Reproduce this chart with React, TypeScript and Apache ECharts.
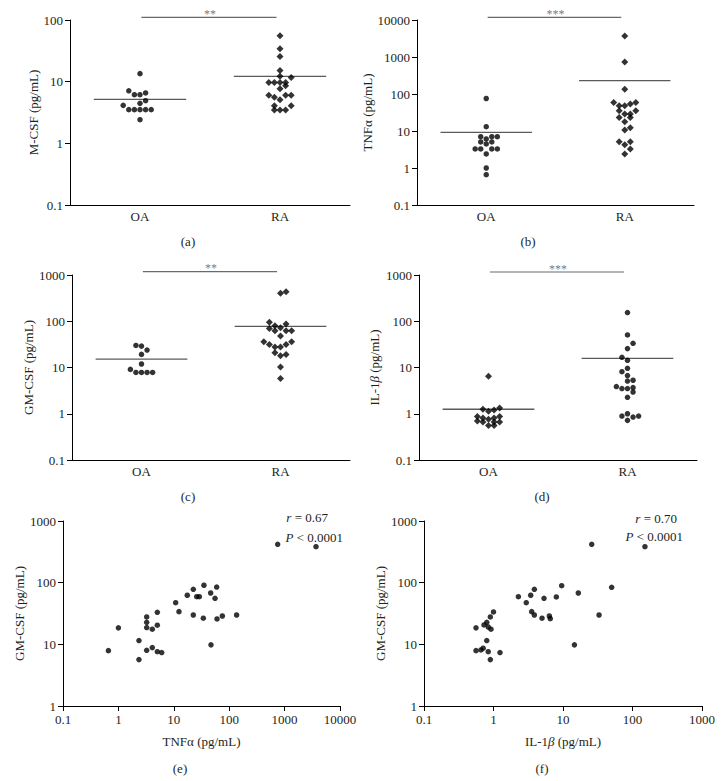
import React, { useEffect, useRef } from "react";
import * as echarts from "echarts";

// ---------- data ----------
const groups = ["OA", "RA"];
const groupPos = [1, 3];

// (a) M-CSF
const aOA = [13.5, 7.1, 6.15, 6.15, 6.56, 4.92, 4.45, 4.13, 3.52, 3.52, 3.52, 3.52, 3.52, 2.42];
const aOAx = [0, -0.16, -0.08, 0, 0.08, 0.08, 0, -0.24, -0.16, -0.08, 0, 0.08, 0.16, 0];
const aRA = [55.7, 34.3, 25.7, 15.2, 12.2, 11.7, 9.7, 9.7, 9.7, 9.7, 8.6, 7.7, 6.0, 5.6, 6.0, 6.0, 5.1, 4.08, 4.08, 3.48, 3.48, 3.48];
const aRAx = [0, 0, 0, 0, 0, 0.16, -0.16, -0.08, 0, 0.08, 0.08, 0, -0.16, -0.08, 0.08, 0.16, 0, -0.08, 0.16, -0.08, 0, 0.08];
const aMean = [5.17, 12.2];

// (b) TNFα
const bOA = [75.6, 13.1, 7.0, 6.1, 7.0, 7.0, 5.05, 4.47, 5.05, 3.27, 3.27, 3.27, 3.27, 2.4, 1.0, 0.66];
const bOAx = [0, 0, -0.08, 0, 0.08, 0.16, -0.08, 0, 0.08, -0.16, -0.08, 0.08, 0.16, 0, 0, 0];
const bRA = [3700, 738, 135, 59, 48, 48, 54, 59, 35, 35, 28.7, 28.7, 23.3, 23.3, 17.8, 10.6, 12.3, 5.15, 5.15, 4.27, 3.27, 2.4];
const bRAx = [0, 0, 0, -0.16, -0.08, 0, 0.08, 0.16, -0.08, 0.16, 0, 0.08, -0.08, 0.08, 0, 0, 0.08, -0.08, 0.08, 0, 0.08, 0];
const bMean = [9.2, 231];

// (c) GM-CSF
const cOA = [30, 29, 23.8, 19.2, 11.9, 9.1, 7.8, 7.8, 7.8, 7.8];
const cOAx = [-0.08, 0, 0.08, 0, 0, -0.16, -0.08, 0, 0.08, 0.16];
const cRA = [402, 435, 94.6, 86.9, 80, 70, 72.4, 62, 62, 62, 48, 36, 31.6, 27.7, 27.7, 31.6, 36, 20.8, 19.2, 17.9, 10.2, 5.8];
const cRAx = [0, 0.08, -0.16, 0.08, -0.08, -0.16, 0, -0.08, 0.08, 0.16, 0, -0.24, -0.16, -0.08, 0, 0.08, 0.16, -0.08, 0.08, 0, 0, 0];
const cMean = [15.2, 77.4];

// (d) IL-1β
const dOA = [6.45, 1.25, 1.13, 1.2, 1.33, 0.87, 0.81, 0.76, 0.81, 0.87, 0.7, 0.66, 0.66, 0.66, 0.56, 0.56];
const dOAx = [0, -0.08, 0, 0.08, 0.16, -0.16, -0.08, 0, 0.08, 0.16, -0.16, -0.08, 0.08, 0.16, 0, 0.08];
const dRA = [154, 50.5, 33.3, 25.6, 16.6, 14.3, 9.6, 8.1, 6.7, 5.1, 5.3, 3.87, 3.5, 3.5, 3.67, 2.95, 2.27, 0.89, 1.0, 0.85, 0.89, 0.72];
const dRAx = [0, 0, 0.08, 0, -0.08, 0, 0, -0.08, 0, 0, 0.08, -0.16, -0.08, 0, 0.08, 0.08, 0, -0.08, 0, 0.08, 0.16, 0];
const dMean = [1.25, 15.8];

// significance brackets
const sigLevels = [110, 11830, 1179, 1161];
const sigStars = ["**", "***", "**", "***"];
const sigEnds = [1.02, 2.95];

// (e) TNFα vs GM-CSF
const eX = [750, 3690, 35, 59.4, 22.5, 17.5, 25.9, 28.9, 46.3, 55.5, 10.8, 12.4, 22.5, 34.1, 60.3, 75.2, 136, 5.04, 3.24, 3.24, 3.24, 5.04, 4.09, 1.0, 2.35, 46.9, 0.66, 3.24, 4.09, 5.04, 6.05, 2.35];
const eY = [419, 383, 90.8, 85, 78, 62.5, 59.3, 59.3, 68, 55.8, 47.4, 33.9, 29.9, 26.5, 25.8, 28.8, 29.9, 33.1, 27.8, 22.8, 18.7, 20.4, 17.6, 18.5, 11.5, 9.8, 7.9, 8.0, 8.85, 7.6, 7.35, 5.65];

// (f) IL-1β vs GM-CSF
const fX = [25.9, 151, 9.57, 50.1, 3.87, 2.28, 3.43, 5.33, 8.02, 16.6, 2.96, 3.54, 3.87, 4.99, 6.36, 6.56, 33, 14.6, 1.0, 0.9, 0.8, 0.73, 0.84, 0.92, 0.56, 0.8, 0.56, 0.66, 0.71, 0.84, 1.24, 0.9];
const fY = [419, 383, 89.3, 84, 78, 59.3, 62.5, 55.8, 58.7, 68, 47.4, 33.9, 29.9, 26.5, 28.8, 26.1, 29.9, 9.8, 33.5, 27.8, 22.8, 20.6, 19.1, 17.6, 18.5, 11.5, 7.9, 8.1, 8.65, 7.6, 7.35, 5.65];

const corrR = ["0.67", "0.70"];
const corrP = ["< 0.0001", "< 0.0001"];
const panelLetters = ["(a)", "(b)", "(c)", "(d)", "(e)", "(f)"];

// ---------- styles ----------
const FONT = '"Liberation Serif", "DejaVu Serif", serif';
const TXT = "#231f20";
const FS = 13;
const MEAN_HALF = 0.66;

const logLabel = (v: number) => {
  const r = Math.round(Math.log10(v));
  return String(Math.pow(10, r)).replace(/^(0\.0*1)0*\d*$/, "$1");
};

const dotPanels = [
  { oa: aOA, oax: aOAx, ra: aRA, rax: aRAx, mean: aMean, yMin: 0.1, yMax: 100, name: "M-CSF (pg/mL)", gap: 28, oaSym: "circle", raSym: "diamond", grid: { left: 70, top: 20, width: 280, height: 185 } },
  { oa: bOA, oax: bOAx, ra: bRA, rax: bRAx, mean: bMean, yMin: 0.1, yMax: 10000, name: "TNFα (pg/mL)", gap: 38, oaSym: "circle", raSym: "diamond", grid: { left: 417, top: 20, width: 277, height: 185 } },
  { oa: cOA, oax: cOAx, ra: cRA, rax: cRAx, mean: cMean, yMin: 0.1, yMax: 1000, name: "GM-CSF (pg/mL)", gap: 33, oaSym: "circle", raSym: "diamond", grid: { left: 72, top: 275, width: 278, height: 185 } },
  { oa: dOA, oax: dOAx, ra: dRA, rax: dRAx, mean: dMean, yMin: 0.1, yMax: 1000, name: "IL-1{i|β} (pg/mL)", gap: 38, oaSym: "diamond", raSym: "circle", grid: { left: 419, top: 275, width: 278, height: 185 } },
];

const scatterPanels = [
  { xs: eX, ys: eY, xMax: 10000, xName: "TNFα (pg/mL)", grid: { left: 63, top: 521, width: 277, height: 185 }, gap: 36 },
  { xs: fX, ys: fY, xMax: 1000, xName: "IL-1{i|β} (pg/mL)", grid: { left: 424, top: 521, width: 278, height: 185 }, gap: 37 },
];

const nameStyle = {
  color: TXT,
  fontFamily: FONT,
  fontSize: FS,
  rich: { i: { fontStyle: "italic", fontFamily: FONT, fontSize: FS, color: TXT } },
};
const axisLine = { show: true, lineStyle: { color: "#000", width: 1 } };
const labelStyle = { color: TXT, fontFamily: FONT, fontSize: FS };

function buildOption() {
  const grid: any[] = [];
  const xAxis: any[] = [];
  const yAxis: any[] = [];
  const series: any[] = [];

  dotPanels.forEach((p, i) => {
    grid.push({ ...p.grid, containLabel: false });
    xAxis.push({
      gridIndex: i,
      type: "value",
      min: 0,
      max: 4,
      interval: 1,
      axisLine,
      axisTick: { show: false },
      splitLine: { show: false },
      axisLabel: {
        ...labelStyle,
        margin: 5,
        formatter: (v: number) => {
          const k = groupPos.indexOf(v);
          return k >= 0 ? groups[k] : "";
        },
      },
    });
    yAxis.push({
      gridIndex: i,
      type: "log",
      logBase: 10,
      min: p.yMin,
      max: p.yMax,
      axisLine,
      axisTick: { show: true, length: 5, lineStyle: { color: "#000" } },
      splitLine: { show: false },
      axisLabel: { ...labelStyle, margin: 7, formatter: logLabel },
      name: p.name,
      nameLocation: "middle",
      nameRotate: 90,
      nameGap: p.gap,
      nameTextStyle: nameStyle,
    });
    const mk = (vals: number[], offs: number[], g: number) => vals.map((v, j) => [groupPos[g] + offs[j], v]);
    series.push({
      type: "scatter", xAxisIndex: i, yAxisIndex: i, symbol: p.oaSym, symbolSize: p.oaSym === "circle" ? 5.5 : 7,
      itemStyle: { color: "#000" }, data: mk(p.oa, p.oax, 0), z: 3,
    });
    series.push({
      type: "scatter", xAxisIndex: i, yAxisIndex: i, symbol: p.raSym, symbolSize: p.raSym === "circle" ? 5.5 : 7,
      itemStyle: { color: "#000" }, data: mk(p.ra, p.rax, 1), z: 3,
    });
    p.mean.forEach((m, g) => {
      series.push({
        type: "line", xAxisIndex: i, yAxisIndex: i, showSymbol: false, symbol: "none",
        lineStyle: { color: "#5a5a5a", width: 1.3 },
        data: [[groupPos[g] - MEAN_HALF, m], [groupPos[g] + MEAN_HALF, m]], z: 2,
      });
    });
    series.push({
      type: "line", xAxisIndex: i, yAxisIndex: i, showSymbol: false, symbol: "none", clip: false,
      lineStyle: { color: "#6a6a6a", width: 1.2 },
      data: [[sigEnds[0], sigLevels[i]], [sigEnds[1], sigLevels[i]]],
    });
    series.push({
      type: "scatter", xAxisIndex: i, yAxisIndex: i, clip: false, symbolSize: 1,
      itemStyle: { color: "rgba(0,0,0,0)" },
      label: {
        show: true, position: "top", distance: -3, formatter: sigStars[i],
        color: "#555", fontFamily: FONT, fontSize: 12,
      },
      data: [[(groupPos[0] + groupPos[1]) / 2, sigLevels[i]]],
    });
  });

  scatterPanels.forEach((p, k) => {
    const i = dotPanels.length + k;
    grid.push({ ...p.grid, containLabel: false });
    xAxis.push({
      gridIndex: i,
      type: "log",
      logBase: 10,
      min: 0.1,
      max: p.xMax,
      axisLine,
      axisTick: { show: true, length: 5, lineStyle: { color: "#000" } },
      splitLine: { show: false },
      axisLabel: { ...labelStyle, margin: 7, formatter: logLabel },
      name: p.xName,
      nameLocation: "middle",
      nameGap: 29,
      nameTextStyle: nameStyle,
    });
    yAxis.push({
      gridIndex: i,
      type: "log",
      logBase: 10,
      min: 1,
      max: 1000,
      axisLine,
      axisTick: { show: true, length: 5, lineStyle: { color: "#000" } },
      splitLine: { show: false },
      axisLabel: { ...labelStyle, margin: 7, formatter: logLabel },
      name: "GM-CSF (pg/mL)",
      nameLocation: "middle",
      nameRotate: 90,
      nameGap: p.gap,
      nameTextStyle: nameStyle,
    });
    series.push({
      type: "scatter", xAxisIndex: i, yAxisIndex: i, symbol: "circle", symbolSize: 5.5,
      itemStyle: { color: "#000" }, data: p.xs.map((x, j) => [x, p.ys[j]]),
    });
  });

  const letterPos = [[188, 241], [528, 241], [188, 496], [542, 496], [180, 768], [542, 768]];
  const graphic: any[] = letterPos.map((pos, i) => ({
    type: "text",
    x: pos[0],
    y: pos[1],
    style: { text: panelLetters[i], fill: TXT, fontFamily: FONT, fontSize: FS, align: "center", verticalAlign: "middle" },
  }));
  const corrPos = [[328, 517, 343, 537], [677, 518, 683, 536]];
  corrPos.forEach((c, k) => {
    const rich = { i: { fontStyle: "italic", fontFamily: FONT, fontSize: FS, fill: TXT } };
    graphic.push({
      type: "text", x: c[0], y: c[1],
      style: { text: "{i|r} = " + corrR[k], rich, fill: TXT, fontFamily: FONT, fontSize: FS, align: "right", verticalAlign: "middle" },
    });
    graphic.push({
      type: "text", x: c[2], y: c[3],
      style: { text: "{i|P} " + corrP[k], rich, fill: TXT, fontFamily: FONT, fontSize: FS, align: "right", verticalAlign: "middle" },
    });
  });

  return {
    animation: false,
    backgroundColor: "#fff",
    textStyle: { fontFamily: FONT },
    grid,
    xAxis,
    yAxis,
    series,
    graphic,
  };
}

export default function App() {
  const ref = useRef<HTMLDivElement>(null);
  useEffect(() => {
    if (!ref.current) return;
    const chart = echarts.init(ref.current, undefined, { renderer: "svg" });
    chart.setOption(buildOption() as any);
    return () => chart.dispose();
  }, []);
  return (
    <div
      ref={ref}
      style={{ position: "absolute", left: 0, top: 0, width: 723, height: 781, background: "#fff" }}
    />
  );
}
